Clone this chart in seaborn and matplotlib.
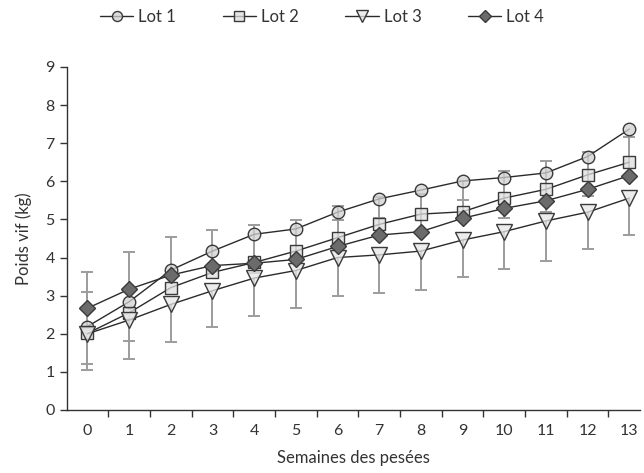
import numpy as np
import matplotlib
matplotlib.use("Agg")
import matplotlib.pyplot as plt
import pandas as pd
import seaborn as sns

weeks = list(range(14))
lot1 = [2.19, 2.84, 3.67, 4.17, 4.61, 4.75, 5.19, 5.54, 5.77, 6.01, 6.10, 6.22, 6.65, 7.37]
lot2 = [2.01, 2.55, 3.21, 3.61, 3.87, 4.17, 4.52, 4.87, 5.14, 5.20, 5.56, 5.79, 6.17, 6.50]
lot3 = [2.00, 2.36, 2.77, 3.13, 3.46, 3.66, 4.00, 4.07, 4.17, 4.46, 4.68, 4.96, 5.19, 5.56]
lot4 = [2.67, 3.17, 3.54, 3.79, 3.85, 3.95, 4.29, 4.59, 4.68, 5.03, 5.29, 5.49, 5.79, 6.15]

# visible error bars (lower / upper lengths), 0 = not drawn
lot1_lo = [0] * 14
lot1_hi = [0] * 14
lot2_lo = [0.80, 0.74, 0, 0, 0.28, 0, 0, 0, 0, 0, 0.51, 0.59, 0.55, 0]
lot2_hi = [1.08, 0, 0, 0, 0, 0, 0.47, 0.16, 0, 0.31, 0, 0, 0, 0]
lot3_lo = [0.95, 1.02, 0.99, 0.96, 0.99, 0.99, 1.01, 1.01, 1.02, 0.98, 0.98, 1.04, 0.96, 0.97]
lot3_hi = [0] * 14
lot4_lo = [0] * 14
lot4_hi = [0.94, 0.97, 0.99, 0.92, 1.00, 1.04, 1.06, 1.00, 1.00, 0.98, 0.99, 1.03, 0.99, 1.00]

labels = ["Lot 1", "Lot 2", "Lot 3", "Lot 4"]
series = [lot1, lot2, lot3, lot4]
err_lo = [lot1_lo, lot2_lo, lot3_lo, lot4_lo]
err_hi = [lot1_hi, lot2_hi, lot3_hi, lot4_hi]
markers = ["o", "s", "v", "D"]
sizes = [9, 9, 11, 8]
faces = [(0.82, 0.82, 0.82, 0.75), (0.87, 0.87, 0.87, 0.75), (0.9, 0.9, 0.9, 0.75), (0.42, 0.42, 0.42, 1.0)]

sns.set_style("ticks")
plt.rcParams["font.family"] = ["Lato", "DejaVu Sans"]

fig = plt.figure(figsize=(6.44, 4.73), dpi=100)
ax = fig.add_axes([0.1034, 0.1332, 0.890, 0.7252])

err_color = "#9c9c9c"
for vals, lo, hi in zip(series, err_lo, err_hi):
    x = np.array(weeks)
    y = np.array(vals)
    lo = np.array(lo)
    hi = np.array(hi)
    m = lo > 0
    ax.vlines(x[m], y[m] - lo[m], y[m], color=err_color, lw=1.4, zorder=1)
    ax.plot(x[m], y[m] - lo[m], ls="none", marker="_", ms=9, mew=1.4, color=err_color, zorder=1)
    m = hi > 0
    ax.vlines(x[m], y[m], y[m] + hi[m], color=err_color, lw=1.4, zorder=1)
    ax.plot(x[m], y[m] + hi[m], ls="none", marker="_", ms=9, mew=1.4, color=err_color, zorder=1)

for vals, lab, mk, ms, fc in zip(series, labels, markers, sizes, faces):
    df = pd.DataFrame({"Semaine": weeks, "Poids": vals})
    sns.lineplot(data=df, x="Semaine", y="Poids", ax=ax, color="#2b2b2b", lw=1.0,
                 marker=mk, markersize=ms, markerfacecolor=fc, markeredgecolor="#3a3a3a",
                 markeredgewidth=1.0, label=lab, zorder=3)

ax.set_xlim(-0.5, 13.25)
ax.set_ylim(0, 9)
ax.set_xticks(weeks)
ax.set_xticks(np.arange(0.5, 13, 1), minor=True)
ax.set_yticks(range(10))
ax.tick_params(axis="x", which="major", length=0, labelsize=11.5, pad=10, colors="#333333")
ax.tick_params(axis="x", which="minor", length=5, width=1, color="#333333")
ax.tick_params(axis="y", length=5, width=1, labelsize=11.5, color="#333333", labelcolor="#333333")
sns.despine(ax=ax)
for s in ["left", "bottom"]:
    ax.spines[s].set_color("#333333")
    ax.spines[s].set_linewidth(1.0)

ax.set_xlabel("Semaines des pesées", fontsize=12, color="#333333", labelpad=9)
ax.set_ylabel("Poids vif (kg)", fontsize=12, color="#333333", labelpad=10)

ax.legend(loc="upper center", bbox_to_anchor=(0.5, 1.012), bbox_transform=fig.transFigure,
          ncol=4, frameon=False, fontsize=12, handlelength=2.0, handletextpad=0.3,
          columnspacing=2.8, labelcolor="#333333", markerscale=0.8)

fig.savefig("out.png", dpi=100)
